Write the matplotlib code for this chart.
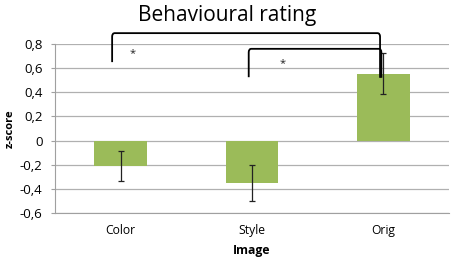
import numpy as np
import matplotlib.pyplot as plt
from matplotlib.path import Path
from matplotlib.patches import PathPatch

categories = ["Color", "Style", "Orig"]
values = [-0.21, -0.35, 0.555]
errors = [0.125, 0.15, 0.17]
ytick_vals = [-0.6, -0.4, -0.2, 0, 0.2, 0.4, 0.6, 0.8]
ytick_labels = ["-0,6", "-0,4", "-0,2", "0", "0,2", "0,4", "0,6", "0,8"]

plt.rcParams['font.family'] = ['Open Sans', 'DejaVu Sans']

fig = plt.figure(figsize=(4.59, 2.64), dpi=100)
ax = fig.add_axes([55 / 459, 1 - 213 / 264, 394 / 459, 169 / 264])

x = np.arange(len(categories))
ax.bar(x, values, width=0.4, color="#9BBB59", zorder=2)
ax.errorbar(x, values, yerr=errors, fmt="none", ecolor="#222222",
            elinewidth=0.9, capsize=2.5, capthick=0.9, zorder=3)

ax.set_xlim(-0.5, 2.5)
ax.set_ylim(-0.6, 0.8)
ax.set_yticks(ytick_vals)
ax.set_yticklabels(ytick_labels, fontsize=9.5)
ax.set_xticks(x)
ax.set_xticklabels(categories, fontsize=8.7)
ax.yaxis.grid(True, color="#b0b0b0", linewidth=0.9, zorder=0)
ax.set_axisbelow(True)
for s in ["top", "right"]:
    ax.spines[s].set_visible(False)
for s in ["left", "bottom"]:
    ax.spines[s].set_color("#a0a0a0")
ax.tick_params(axis="y", length=3, color="#a0a0a0", pad=6)
ax.tick_params(axis="x", length=0, pad=8)
ax.set_ylabel("z-score", fontsize=8, fontweight="bold", labelpad=3)
ax.set_xlabel("Image", fontsize=8.7, fontweight="bold", labelpad=5)


def bracket(x0, y0, x1, y1, top, r=0.02, ry=0.03):
    verts = [(x0, y0), (x0, top - ry), (x0, top), (x0 + r, top),
             (x1 - r, top), (x1, top), (x1, top - ry), (x1, y1)]
    codes = [Path.MOVETO, Path.LINETO, Path.CURVE3, Path.CURVE3,
             Path.LINETO, Path.CURVE3, Path.CURVE3, Path.LINETO]
    ax.add_patch(PathPatch(Path(verts, codes), fill=False, lw=1.3,
                           edgecolor="black", clip_on=False, zorder=4))


bracket(-0.065, 0.65, 1.975, 0.52, 0.89)
bracket(0.975, 0.525, 1.985, 0.52, 0.76)
ax.text(0.09, 0.72, "*", ha="center", va="center", fontsize=8,
        color="#222222")
ax.text(1.23, 0.64, "*", ha="center", va="center", fontsize=8,
        color="#222222")

fig.text(227 / 459, 1 - 16 / 264, "Behavioural rating", ha="center",
         va="center", fontsize=15)

fig.savefig("out.png", dpi=100)
